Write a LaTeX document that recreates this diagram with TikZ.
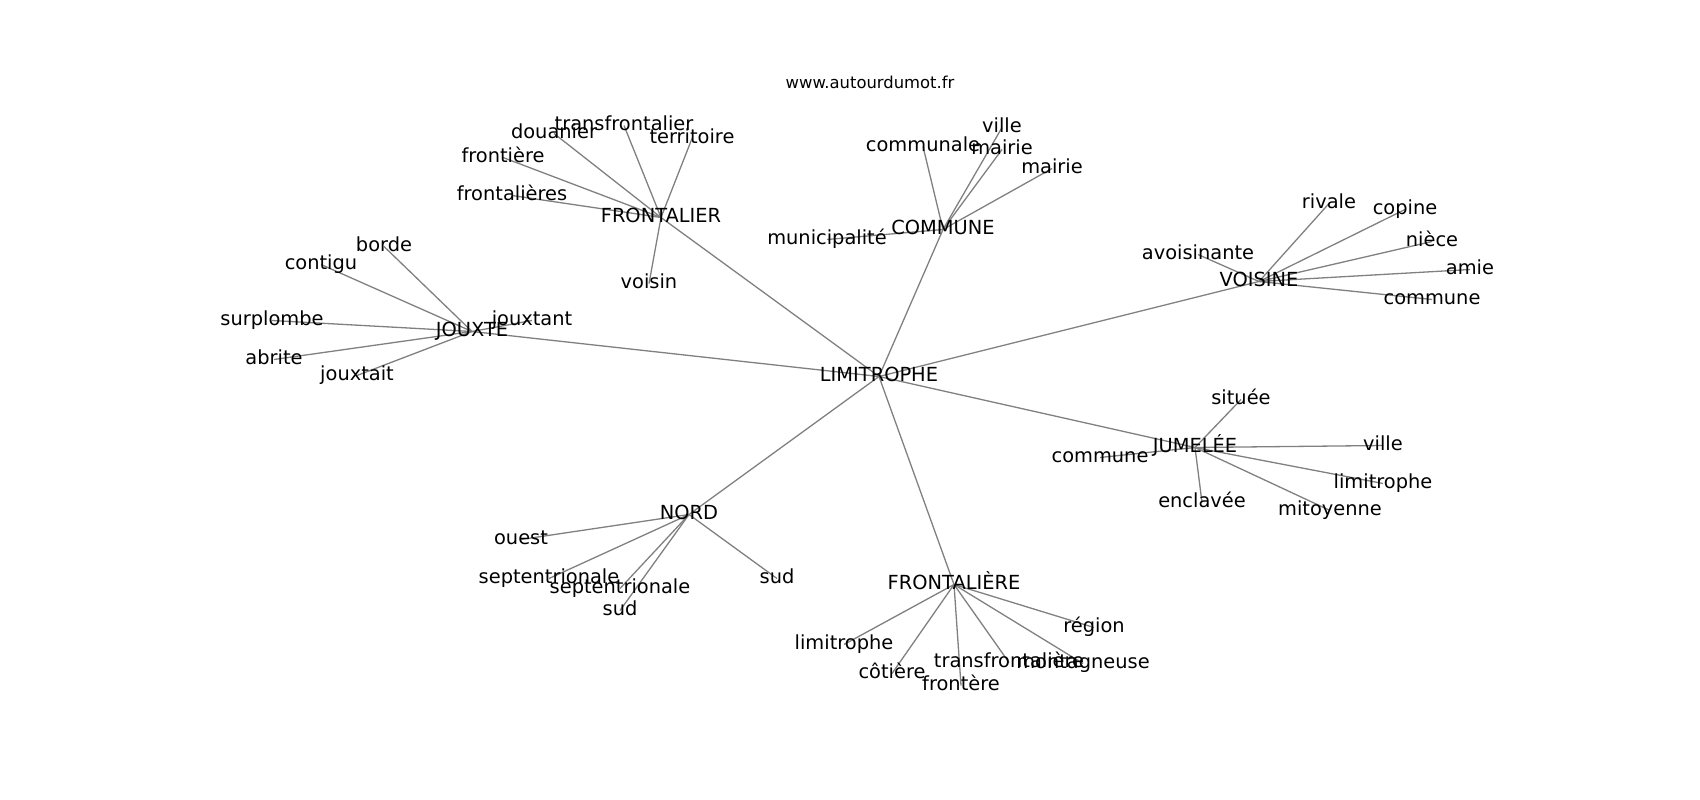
\documentclass[tikz,border=0pt]{standalone}
\usepackage{fontspec}
\setmainfont{DejaVu Sans}
\definecolor{edgegray}{RGB}{128,128,128}
\pgfdeclarelayer{edges}
\pgfsetlayers{edges,main}

\begin{document}
\begin{tikzpicture}[x=1pt,y=-1pt,
  word/.style={inner sep=0pt, text height=14.7pt, text depth=4.6pt, yshift=-1.5pt,
               font=\fontsize{19.4}{22}\selectfont},
  link/.style={draw=edgegray, line width=1.3pt}]
\useasboundingbox (0,0) rectangle (1700,800);
% Title
\node[inner sep=0pt, text height=12.5pt, text depth=3.9pt,
      font=\fontsize{16.4}{19}\selectfont] (site) at (870,84) {www.autourdumot.fr};
% Centre and hub words
\node[word] (lim) at (879,375) {LIMITROPHE};
\node[word] (frontalier) at (661,216) {FRONTALIER};
\node[word] (commune) at (943,228) {COMMUNE};
\node[word] (jouxte) at (472,330) {JOUXTE};
\node[word] (voisine) at (1259,280) {VOISINE};
\node[word] (jumelee) at (1195,446) {JUMELÉE};
\node[word] (nord) at (689,513) {NORD};
\node[word] (frontaliere) at (954,583) {FRONTALIÈRE};
% Words round FRONTALIER
\node[word] (fa1) at (624,124) {transfrontalier};
\node[word] (fa2) at (554,132) {douanier};
\node[word] (fa3) at (503,156) {frontière};
\node[word] (fa4) at (512,194) {frontalières};
\node[word] (fa5) at (692,137) {territoire};
\node[word] (fa6) at (649,282) {voisin};
% Words round COMMUNE
\node[word] (co1) at (923,145) {communale};
\node[word] (co2) at (1002,126) {ville};
\node[word] (co3) at (1002,148) {mairie};
\node[word] (co4) at (1052,167) {mairie};
\node[word] (co5) at (827,238) {municipalité};
% Words round JOUXTE
\node[word] (jo1) at (384,245) {borde};
\node[word] (jo2) at (321,263) {contigu};
\node[word] (jo3) at (272,319) {surplombe};
\node[word] (jo4) at (274,358) {abrite};
\node[word] (jo5) at (357,374) {jouxtait};
\node[word] (jo6) at (532,319) {jouxtant};
% Words round VOISINE
\node[word] (vo1) at (1329,202) {rivale};
\node[word] (vo2) at (1405,208) {copine};
\node[word] (vo3) at (1432,240) {nièce};
\node[word] (vo4) at (1470,268) {amie};
\node[word] (vo5) at (1432,298) {commune};
\node[word] (vo6) at (1198,253) {avoisinante};
% Words round JUMELEE
\node[word] (ju1) at (1241,398) {située};
\node[word] (ju2) at (1383,444) {ville};
\node[word] (ju3) at (1383,482) {limitrophe};
\node[word] (ju4) at (1330,509) {mitoyenne};
\node[word] (ju5) at (1202,501) {enclavée};
\node[word] (ju6) at (1100,456) {commune};
% Words round NORD
\node[word] (no1) at (521,538) {ouest};
\node[word] (no2) at (549,577) {septentrionale};
\node[word] (no3) at (620,587) {septentrionale};
\node[word] (no4) at (620,609) {sud};
\node[word] (no5) at (777,577) {sud};
% Words round FRONTALIERE
\node[word] (fe1) at (1094,626) {région};
\node[word] (fe2) at (844,643) {limitrophe};
\node[word] (fe3) at (892,672) {côtière};
\node[word] (fe4) at (1009,661) {transfrontalière};
\node[word] (fe5) at (1083,662) {montagneuse};
\node[word] (fe6) at (961,684) {frontère};
% Links, under the words
\begin{pgfonlayer}{edges}
\foreach \hub in {frontalier,commune,jouxte,voisine,jumelee,nord,frontaliere}
  \draw[link] (lim.center) -- (\hub.center);
\foreach \i in {1,...,6} {
  \draw[link] (frontalier.center) -- (fa\i.center);
  \draw[link] (jouxte.center) -- (jo\i.center);
  \draw[link] (voisine.center) -- (vo\i.center);
  \draw[link] (jumelee.center) -- (ju\i.center);
  \draw[link] (frontaliere.center) -- (fe\i.center);
}
\foreach \i in {1,...,5} {
  \draw[link] (commune.center) -- (co\i.center);
  \draw[link] (nord.center) -- (no\i.center);
}
\end{pgfonlayer}
\end{tikzpicture}
\end{document}
